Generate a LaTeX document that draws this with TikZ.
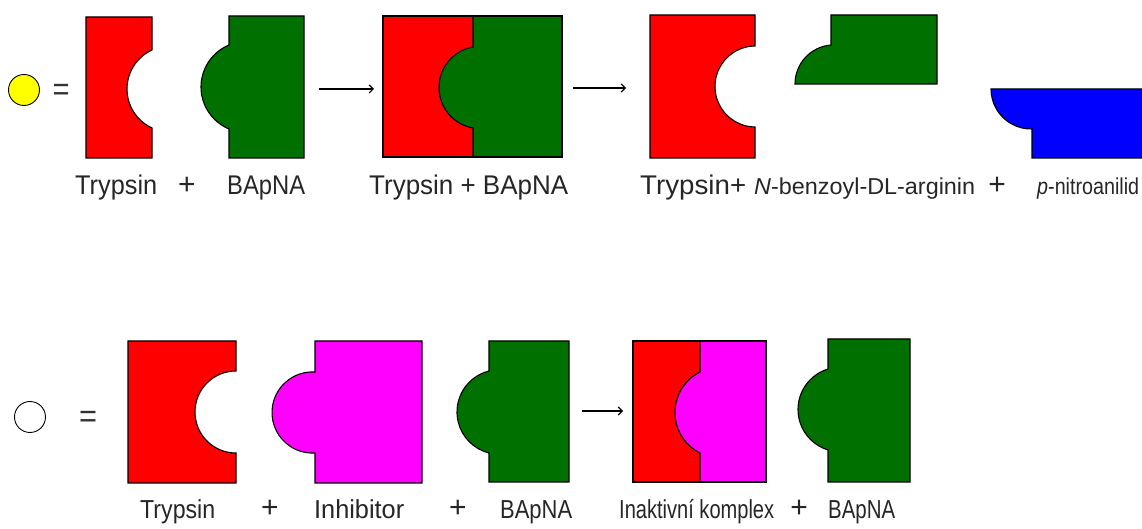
\documentclass[tikz,border=0pt]{standalone}
\usepackage{fontspec}
\usepackage{graphicx}
\setmainfont{Liberation Sans}
\newfontfamily\labfont{Liberation Sans}
\usetikzlibrary{arrows.meta}

\definecolor{enzred}{RGB}{255,0,0}
\definecolor{subgreen}{RGB}{0,112,0}
\definecolor{inhmag}{RGB}{255,0,255}
\definecolor{prodblue}{RGB}{0,0,255}
\definecolor{indyellow}{RGB}{255,255,0}

% set a text to a given width (in pt), keeping its height
\newsavebox\fitbox
\newcommand\fitw[2]{%
  \sbox\fitbox{#2}%
  \pgfmathsetmacro\fitscale{#1/\the\wd\fitbox}%
  \scalebox{\fitscale}[1]{\usebox\fitbox}}

% radius and half opening angle of a circular cap: #1 depth, #2 half chord
\newcommand\arcparams[2]{%
  \pgfmathsetmacro\arcR{(#1*#1+#2*#2)/(2*#1)}%
  \pgfmathsetmacro\arcP{atan2(#2,\arcR-#1)}}

% block with a round notch cut into its right side
% #1 fill, #2 left x, #3 right x, #4 top y, #5 bottom y, #6 notch mid y, #7 depth, #8 half chord
\newcommand\notchblock[8]{%
  \arcparams{#7}{#8}%
  \draw[shape edge, fill=#1] (#2,#4) -- (#3,#4) -- (#3,#6+#8)
    arc[start angle=180-\arcP, end angle=180+\arcP, radius=\arcR]
    -- (#3,#5) -- (#2,#5) -- cycle;}

% block with a round bump on its left side
\newcommand\bumpblock[8]{%
  \arcparams{#7}{#8}%
  \draw[shape edge, fill=#1] (#3,#4) -- (#2,#4) -- (#2,#6+#8)
    arc[start angle=180-\arcP, end angle=180+\arcP, radius=\arcR]
    -- (#2,#5) -- (#3,#5) -- cycle;}

\begin{document}
\begin{tikzpicture}[x=1pt, y=1pt,
  shape edge/.style={draw=black, line width=1.1pt, line join=miter},
  lab/.style={inner sep=0pt, font=\labfont\fontsize{27}{30}\selectfont, text=black!85},
  lowlab/.style={inner sep=0pt, font=\labfont\fontsize{26}{29}\selectfont, text=black!85},
  sublab/.style={inner sep=0pt, font=\labfont\fontsize{23}{26}\selectfont, text=black!85},
  plus/.style={inner sep=0pt, font=\labfont\fontsize{30}{32}\selectfont, text=black!85},
  eqsign/.style={inner sep=0pt, font=\labfont\fontsize{33}{36}\selectfont, text=black!80},
  react/.style={line width=1.2pt, -{Straight Barb[length=4pt, width=8pt]}},
  indicator/.style={circle, draw=black, line width=0.9pt, minimum size=31pt, inner sep=0pt}]

\fill[white] (0,0) rectangle (1142,529);
\useasboundingbox (0,0) rectangle (1142,529);

% ---------- reaction without inhibitor ----------
\node[indicator, fill=indyellow] (ind1) at (24,439) {};
\node[eqsign, anchor=base] (eq1) at (61,428) {\fitw{17}{=}};

\notchblock{enzred}{86}{152}{512}{371}{440}{25}{39}
\bumpblock{subgreen}{229}{304}{513}{371}{442}{28}{42}

\coordinate (r1s) at (319,440);
\coordinate (r1e) at (374,440);
\draw[react] (r1s) -- (r1e);

% enzyme-substrate complex
\fill[subgreen] (383,513) rectangle (562,372);
\notchblock{enzred}{383}{473}{513}{372}{441.5}{34}{40.5}
\draw[shape edge] (383,513) rectangle (562,372);

\coordinate (r2s) at (573,441);
\coordinate (r2e) at (626,441);
\draw[react] (r2s) -- (r2e);

% free enzyme and the two cleavage products
\notchblock{enzred}{650}{755}{514}{371}{442.5}{40}{40.5}

\arcparams{36}{39}
\draw[shape edge, fill=subgreen] (937,514) -- (831,514) -- (831,484)
  arc[start angle=180-\arcP, end angle=180, radius=\arcR] -- (937,445) -- cycle;

\arcparams{41}{40}
\draw[shape edge, fill=prodblue] (1144,440) -- (991,440)
  arc[start angle=180, end angle=180+\arcP, radius=\arcR] -- (1032,371) -- (1144,371) -- cycle;

% labels, first row
\node[lab, anchor=base west] (l1) at (75,334) {\fitw{82}{Trypsin}};
\node[plus, anchor=base] (l2) at (187,334) {+};
\node[lab, anchor=base west] (l3) at (227,334) {\fitw{78}{BApNA}};
\node[lab, anchor=base west] (l4) at (369,334) {\fitw{199}{Trypsin + BApNA}};
\node[lab, anchor=base west] (l5) at (640,334) {\fitw{106}{Trypsin+}};
\node[sublab, anchor=base west] (l6) at (754,334) {\fitw{221}{\textit{N}-benzoyl-DL-arginin}};
\node[plus, anchor=base] (l7) at (997,334) {+};
\node[sublab, anchor=base west] (l8) at (1037,334) {\fitw{102}{\textit{p}-nitroanilid}};

% ---------- reaction with inhibitor ----------
\node[indicator, fill=white] (ind2) at (30,112) {};
\node[eqsign, anchor=base] (eq2) at (88,101) {\fitw{18}{=}};

\notchblock{enzred}{128}{236}{188}{46}{117}{41}{41}
\bumpblock{inhmag}{315}{422}{188}{46}{116.5}{43}{40.5}
\bumpblock{subgreen}{489}{569}{188}{47}{117}{32}{41}

\coordinate (r3s) at (582,118);
\coordinate (r3e) at (623,118);
\draw[react] (r3s) -- (r3e);

% inactive enzyme-inhibitor complex
\fill[inhmag] (633,188) rectangle (766,47);
\notchblock{enzred}{633}{700}{188}{47}{116.5}{25}{40.5}
\draw[shape edge] (633,188) rectangle (766,47);

\bumpblock{subgreen}{828}{910}{190}{47}{119.5}{30}{40.5}

% labels, second row
\node[lowlab, anchor=base west] (m1) at (140,10) {\fitw{75}{Trypsin}};
\node[plus, anchor=base] (m2) at (270,11) {+};
\node[lowlab, anchor=base west] (m3) at (314,10) {\fitw{90}{Inhibitor}};
\node[plus, anchor=base] (m4) at (458,11) {+};
\node[lowlab, anchor=base west] (m5) at (500,10) {\fitw{72}{BApNA}};
\node[lowlab, anchor=base west] (m6) at (619,10) {\fitw{155}{Inaktivní komplex}};
\node[plus, anchor=base] (m7) at (799,11) {+};
\node[lowlab, anchor=base west] (m8) at (828,10) {\fitw{67}{BApNA}};

\end{tikzpicture}
\end{document}
